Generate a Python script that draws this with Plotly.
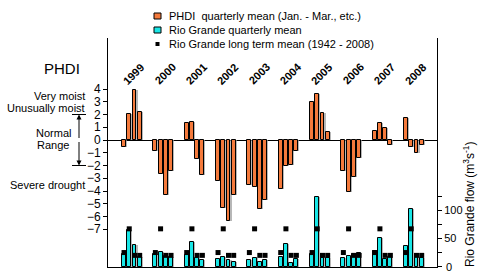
import plotly.graph_objects as go

years = ["1999", "2000", "2001", "2002", "2003", "2004", "2005", "2006", "2007", "2008"]
phdi = [
    -0.52, 2.06, 3.92, 2.2,
    -0.89, -2.67, -4.31, -2.43,
    1.31, 1.41, -1.47, -2.75,
    -3.19, -5.31, -6.38, -4.29,
    -3.56, -3.71, -5.44, -4.73,
    -3.87, -2.0, -1.95, -0.84,
    2.95, 3.58, 2.09, 0.63,
    -2.4, -4.1, -2.93, -1.44,
    0.71, 1.33, 0.94, -0.39,
    1.7, -0.52, -1.05, -0.39,
]
flow = [
    22, 65, 38, 17,
    22, 26, 19, 17,
    20, 44, 16, 12,
    14, 18, 12, 8,
    12, 16, 9, 11,
    18, 40, 7, 14,
    22, 124, 15, 16,
    15, 19, 23, 24,
    28, 50, 13, 18,
    37, 102, 18, 15,
]
long_term_mean = [25, 67, 20, 20] * len(years)
phdi_ticks = [-7, -6, -5, -4, -3, -2, -1, 0, 1, 2, 3, 4]
flow_ticks = [0, 25, 50, 75, 100, 125]
flow_ticktext = ["", "", "50", "", "100", ""]
flow_zero_label = "0"

ORANGE = "#F47A3C"
CYAN = "#19E6E6"
FONT = "Liberation Sans, Arial, sans-serif"

# quarter positions: 6 slots per year (4 bars + gap)
xpos = [yi * 6 + q for yi in range(len(years)) for q in range(4)]

fig = go.Figure()
# shadows
fig.add_trace(go.Bar(x=[x + 0.22 for x in xpos], y=phdi, width=0.75, marker_color="#9a9a9a",
                     marker_line_width=0, opacity=0.7, showlegend=False, hoverinfo="skip"))
fig.add_trace(go.Bar(x=xpos, y=phdi, width=0.75, marker_color=ORANGE,
                     marker_line=dict(color="black", width=1), showlegend=False,
                     name="PHDI quarterly mean"))
fig.add_trace(go.Bar(x=[x + 0.22 for x in xpos], y=flow, width=0.75, marker_color="#9a9a9a",
                     marker_line_width=0, opacity=0.7, yaxis="y2", showlegend=False, hoverinfo="skip"))
fig.add_trace(go.Bar(x=xpos, y=flow, width=0.75, marker_color=CYAN,
                     marker_line=dict(color="black", width=1), yaxis="y2", showlegend=False,
                     name="Rio Grande quarterly mean"))
fig.add_trace(go.Scatter(x=xpos, y=long_term_mean, mode="markers", yaxis="y2",
                         marker=dict(symbol="square", size=5, color="black"), showlegend=False,
                         name="Rio Grande long term mean"))

# plot area in screen pixels
L, R, T, B = 108, 437, 38, 267
def px(x):
    return (x - L) / (R - L)
def py(y):
    return (B - y) / (B - T)

ann = []
for yi, yr in enumerate(years):
    ann.append(dict(x=yi * 6 + 1.8, y=5.2, xref="x", yref="y", text="<b>" + yr + "</b>",
                    textangle=-45, showarrow=False, xanchor="center", yanchor="middle",
                    font=dict(size=11, color="black", family=FONT)))

left_txt = [
    ("PHDI", 62, 68, "center", 15),
    ("Very moist", 87, 96, "right", 11),
    ("Unusually moist", 87, 108, "right", 11),
    ("Normal", 53, 133, "center", 11),
    ("Range", 53, 145, "center", 11),
    ("Severe drought", 87, 185, "right", 11),
]
for t, x, y, anc, s in left_txt:
    ann.append(dict(x=px(x), y=py(y), xref="paper", yref="paper", text=t, showarrow=False,
                    xanchor=anc, yanchor="middle", font=dict(size=s, color="black", family=FONT)))

# normal-range arrows
ann.append(dict(x=px(79), y=2, xref="paper", yref="y", ax=0, ay=25, axref="pixel", ayref="pixel",
                showarrow=True, arrowhead=2, arrowsize=1, arrowwidth=1, arrowcolor="black", text=""))
ann.append(dict(x=px(79), y=-2, xref="paper", yref="y", ax=0, ay=-25, axref="pixel", ayref="pixel",
                showarrow=True, arrowhead=2, arrowsize=1, arrowwidth=1, arrowcolor="black", text=""))

# flow axis zero label (at the bottom edge)
ann.append(dict(x=px(444), y=0, xref="paper", yref="y2", text=flow_zero_label, showarrow=False,
                xanchor="left", yanchor="middle", font=dict(size=11, color="black", family=FONT)))

# right axis title
ann.append(dict(x=px(469), y=py(204), xref="paper", yref="paper",
                text="Rio Grande flow (m<sup>3</sup>s<sup>-1</sup>)", textangle=-90, showarrow=False,
                xanchor="center", yanchor="middle",
                font=dict(size=12, color="black", family=FONT)))

# legend (manual)
leg = [("PHDI  quarterly mean (Jan. - Mar., etc.)", 16), ("Rio Grande quarterly mean", 30),
       ("Rio Grande long term mean (1942 - 2008)", 44)]
for t, y in leg:
    ann.append(dict(x=px(167), y=py(y), xref="paper", yref="paper", text=t, showarrow=False,
                    xanchor="left", yanchor="middle", font=dict(size=11, color="black", family=FONT)))

shapes = [
    dict(type="line", xref="paper", yref="y", x0=px(72), x1=px(86), y0=2, y1=2,
         line=dict(color="black", width=1)),
    dict(type="line", xref="paper", yref="y", x0=px(72), x1=px(86), y0=-2, y1=-2,
         line=dict(color="black", width=1)),
    dict(type="rect", xref="paper", yref="paper", x0=px(154), x1=px(161), y0=py(19), y1=py(13),
         fillcolor=ORANGE, line=dict(color="black", width=1)),
    dict(type="rect", xref="paper", yref="paper", x0=px(154), x1=px(161), y0=py(33), y1=py(27),
         fillcolor=CYAN, line=dict(color="black", width=1)),
    dict(type="rect", xref="paper", yref="paper", x0=px(155.5), x1=px(159.5), y0=py(46), y1=py(42),
         fillcolor="black", line=dict(color="black", width=0)),
]

fig.update_layout(
    width=480, height=272,
    margin=dict(l=L, r=480 - R, t=T, b=272 - B, pad=0),
    paper_bgcolor="white", plot_bgcolor="white",
    barmode="overlay", bargap=0,
    showlegend=False,
    font=dict(family=FONT, size=11, color="black"),
    xaxis=dict(range=[-3.07, 59.93], showticklabels=False, ticks="", showgrid=False,
               zeroline=False, showline=True, linecolor="black", linewidth=1),
    yaxis=dict(range=[-9.96, 8.0], tickvals=phdi_ticks, ticks="outside", ticklen=4,
               tickcolor="black", showgrid=False, zeroline=True, zerolinecolor="black",
               zerolinewidth=1, showline=True, linecolor="black", linewidth=1,
               tickfont=dict(size=12)),
    yaxis2=dict(range=[-0.6, 405], overlaying="y", side="right", tickvals=flow_ticks,
                ticktext=flow_ticktext, ticks="outside", ticklen=4, tickcolor="black",
                showgrid=False, zeroline=False, showline=True, linecolor="black", linewidth=1,
                tickfont=dict(size=11)),
    annotations=ann,
    shapes=shapes,
)

fig.write_html("out.html", config={"displayModeBar": False},
               post_script="document.body.style.margin='0';document.body.style.overflow='hidden';")
